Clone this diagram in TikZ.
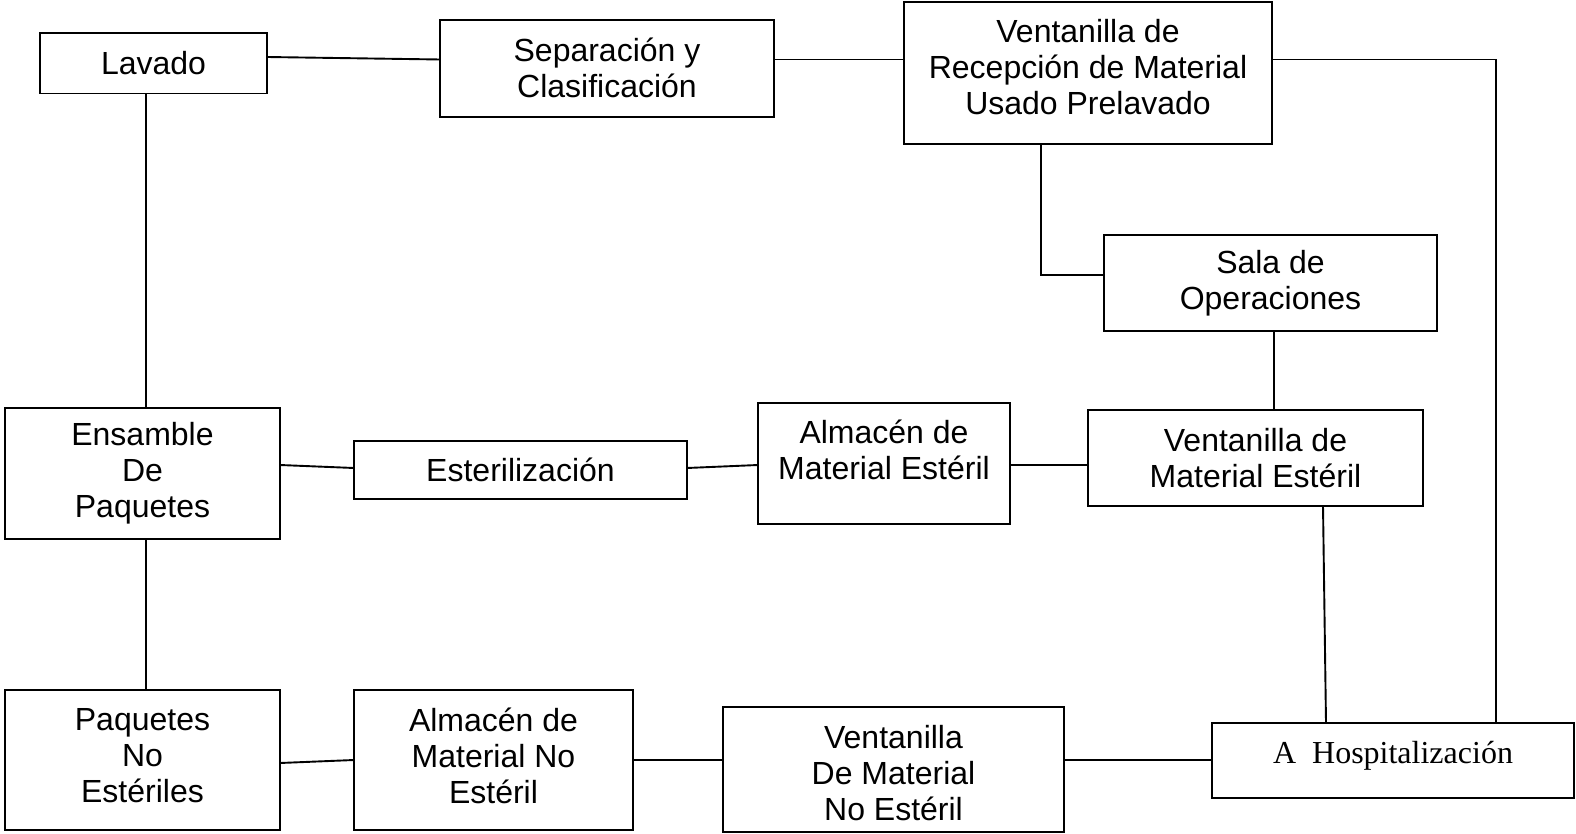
\documentclass[tikz,border=0pt]{standalone}
\usepackage{fontspec}
\setmainfont{Liberation Sans}
\newfontfamily\tms{Liberation Serif}
\begin{document}
\begin{tikzpicture}[x=1pt,y=-1pt,
  box/.style={draw=black,line width=1.9pt,rectangle,inner sep=0pt,outer sep=0pt,align=center,
    font=\fontsize{32}{36}\selectfont},
  conn/.style={draw=black,line width=1.9pt}]
\useasboundingbox[fill=white] (0,0) rectangle (1576,834);
\node[box,minimum width=227pt,minimum height=60.5pt] (lav) at (153.5,63.25) {Lavado};
\node[box,minimum width=334pt,minimum height=96.6pt] (sep) at (607,68.3) {Separación y\\Clasificación};
\node[box,minimum width=368pt,minimum height=142pt,
  label={[align=center,yshift=5.7pt,font=\fontsize{32}{36}\selectfont]center:Ventanilla de\\Recepción de Material\\Usado Prelavado}] (vr) at (1088,73) {};
\node[box,minimum width=333pt,minimum height=96pt] (sala) at (1270.5,283) {Sala de\\Operaciones};
\node[box,minimum width=275pt,minimum height=131pt] (ens) at (142.5,473.5) {Ensamble\\De\\Paquetes};
\node[box,minimum width=333pt,minimum height=58pt] (est) at (520.5,470) {Esterilización};
\node[box,minimum width=252pt,minimum height=121pt,
  label={[align=center,yshift=13.5pt,font=\fontsize{32}{36}\selectfont]center:Almacén de\\Material Estéril}] (ae) at (884,463.5) {};
\node[box,minimum width=335pt,minimum height=96pt] (vme) at (1255.5,458) {Ventanilla de\\Material Estéril};
\node[box,minimum width=275pt,minimum height=140pt,
  label={[align=center,yshift=4pt,font=\fontsize{32}{36}\selectfont]center:Paquetes\\No\\Estériles}] (pne) at (142.5,760) {};
\node[box,minimum width=279pt,minimum height=140pt,
  label={[align=center,yshift=4pt,font=\fontsize{32}{36}\selectfont]center:Almacén de\\Material No\\Estéril}] (ane) at (493.5,760) {};
\node[box,minimum width=341pt,minimum height=125pt,
  label={[align=center,yshift=-3.5pt,font=\fontsize{32}{36}\selectfont]center:Ventanilla\\De Material\\No Estéril}] (vne) at (893.5,769.5) {};
\node[box,minimum width=362pt,minimum height=75pt,
  label={[yshift=4.5pt,font=\tms\fontsize{32}{36}\selectfont]center:A\ \ Hospitalización}] (hosp) at (1393,760.5) {};
% connectors
\draw[conn] ([yshift=6.25pt]lav.east) -- ([yshift=8.8pt]sep.west);
\draw[conn] ([yshift=8.8pt]sep.east) -- ([yshift=13.5pt]vr.west);
\draw[conn] ([yshift=13.5pt]vr.east) -| ([xshift=103pt]hosp.north);
\draw[conn] ([xshift=-47pt]vr.south) |- ([yshift=8pt]sala.west);
\draw[conn] ([xshift=3.5pt]sala.south) -- ([xshift=18.5pt]vme.north);
\draw[conn] ([xshift=67.5pt]vme.south) -- ([xshift=-67pt]hosp.north);
\draw[conn] ([yshift=-1.5pt]ae.east) -- ([yshift=-7pt]vme.west);
\draw[conn] ([yshift=2pt]est.east) -- ([yshift=-1.5pt]ae.west);
\draw[conn] ([yshift=8.5pt]ens.east) -- ([yshift=2pt]est.west);
\draw[conn] ([xshift=-7.5pt]lav.south) -- ([xshift=3.5pt]ens.north);
\draw[conn] ([xshift=3.5pt]ens.south) -- ([xshift=3.5pt]pne.north);
\draw[conn] ([yshift=-3pt]pne.east) -- (ane.west);
\draw[conn] (ane.east) -- ([yshift=9.5pt]vne.west);
\draw[conn] ([yshift=9.5pt]vne.east) -- ([yshift=0.5pt]hosp.west);
\end{tikzpicture}
\end{document}
